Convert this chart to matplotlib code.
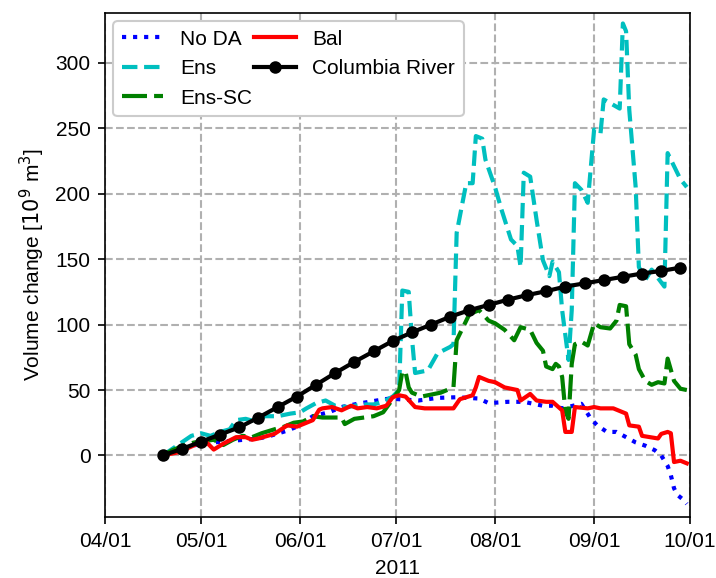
import numpy as np
import matplotlib
matplotlib.use("Agg")
import matplotlib.pyplot as plt
import matplotlib.dates as mdates

plt.rcParams['font.family'] = ['Liberation Sans', 'DejaVu Sans']
plt.rcParams['font.size'] = 10

start = np.datetime64('2011-04-01')

# days after 04/01 and values [10^9 m^3]
nda_day = [18, 25, 30, 34, 41, 48, 51, 57, 60, 65, 70, 74, 79, 85, 89, 98, 104, 110, 117, 120,
           126, 131, 133, 137, 140, 143, 149, 152, 154, 157, 160, 163, 166, 169, 172, 174, 176,
           177, 178, 179, 181, 182]
nda_val = [0, 6, 9, 10, 11.5, 13, 14.5, 19, 22, 30, 33, 37, 39.5, 42, 43.5, 42, 44, 44.5, 43.5, 40,
           41, 41, 40, 38, 38, 36, 39.5, 28, 23, 18, 18, 14, 10, 7.5, 4, 0, -8,
           -15, -25, -30, -34, -37]

ens_day = [18, 21, 24, 27, 30, 33, 36, 39, 41, 44, 47, 50, 54, 58, 61, 63, 66, 69, 72, 76, 80, 84,
           87, 90, 92, 93, 95, 96, 97, 101, 104, 108, 109, 110, 113, 115, 116, 118, 119, 122, 124,
           127, 129, 130, 131, 133, 135, 137, 139, 140, 142, 143, 145, 146, 147, 149, 151, 153,
           155, 156, 161, 162, 163, 164, 166, 167, 169, 171, 175, 176, 178, 180, 182]
ens_val = [0, 5, 10, 15, 17, 15, 18, 20, 27, 28, 26, 30, 30, 32, 33, 36, 40, 42, 38, 37, 39, 39,
           41, 45, 50, 126, 125, 90, 63, 65, 78, 83, 85, 170, 208, 208, 244, 242, 226, 205, 188,
           165, 160, 144, 216, 213, 180, 149, 137, 148, 140, 111, 73, 111, 208, 203, 193, 249,
           246, 272, 265, 330, 324, 264, 205, 144, 134, 142, 129, 231, 221, 211, 205]

sc_day = [18, 21, 25, 28, 31, 34, 37, 40, 43, 46, 49, 53, 56, 59, 62, 65, 68, 71, 74, 75, 78, 81,
          84, 87, 90, 92, 93, 94, 95, 96, 99, 101, 105, 109, 110, 112, 114, 117, 120, 122, 125,
          128, 130, 133, 135, 137, 138, 140, 141, 142, 143, 144, 145, 146, 147, 149, 151, 153,
          155, 158, 160, 161, 163, 164, 166, 167, 169, 171, 173, 175, 176, 178, 180, 182]
sc_val = [0, 4, 8, 10, 11, 12, 8, 12, 15, 14, 17, 20, 22, 25, 26, 30, 29, 29, 29, 24, 28, 29,
          30, 33, 43, 50, 64, 64, 52, 48, 45, 46, 48, 52, 88, 98, 108, 111, 103, 101, 96,
          88, 98, 96, 86, 80, 68, 66, 70, 68, 60, 34, 28, 70, 85, 87, 84, 101,
          98, 97, 103, 115, 114, 85, 77, 66, 57, 54, 56, 55, 74, 57, 51, 50]

bal_day = [18, 23, 29, 32, 34, 37, 41, 44, 46, 48, 53, 57, 60, 65, 67, 68, 71, 74, 77, 79, 82, 85,
           88, 90, 92, 94, 97, 100, 105, 109, 111, 115, 116, 117, 120, 122, 125, 129, 130, 133,
           135, 138, 140, 143, 144, 146, 147, 151, 153, 155, 159, 163, 164, 167, 168, 173, 174,
           176, 177, 178, 180, 182]
bal_val = [0, 2.5, 9, 9.5, 4.5, 9, 14, 14, 12, 13, 16.5, 23, 22, 27, 35, 36, 37, 34.5, 38, 36, 37, 36,
           38, 44.5, 46, 45, 37, 36, 36, 36, 43, 46, 52, 60, 57, 56, 52, 50, 42, 47,
           42, 41, 41, 34.5, 18, 18, 37, 36, 37, 36, 36, 32, 23, 22, 15, 13, 16.5,
           18, 17, -5, -4, -6]

col_day = list(range(18, 181, 6))
col_val = [0, 5, 10.5, 16, 21.5, 29, 37, 45, 54, 63, 71.5, 79.5, 87.5, 94, 100, 106, 111, 115,
           119, 122.5, 125.5, 129, 131.5, 134, 136.5, 139, 141, 143.5]


def to_dates(days):
    return mdates.date2num(start) + np.array(days, dtype=float)


fig = plt.figure(figsize=(716 / 150, 578 / 150), dpi=150)
ax = fig.add_axes([0.1467, 0.1055, 0.817, 0.872])

ax.plot(to_dates(nda_day), nda_val, ':', color='b', lw=2, label='No DA')
ax.plot(to_dates(ens_day), ens_val, '--', color='c', lw=2, label='Ens')
ax.plot(to_dates(sc_day), sc_val, '--', color='g', lw=2, dashes=(6, 1.7), label='Ens-SC')
ax.plot(to_dates(bal_day), bal_val, '-', color='r', lw=2, label='Bal')
ax.plot(to_dates(col_day), col_val, '-o', color='k', lw=2, ms=5, label='Columbia River')

ax.set_xlim(mdates.date2num(start), mdates.date2num(np.datetime64('2011-10-01')))
ax.set_ylim(-47, 338)
ax.set_yticks(np.arange(0, 301, 50))
ax.xaxis.set_major_locator(mdates.MonthLocator())
ax.xaxis.set_major_formatter(mdates.DateFormatter('%m/%d'))
ax.grid(True, linestyle='--', color='#b0b0b0', lw=1)
ax.set_axisbelow(True)
ax.set_xlabel('2011')
ax.set_ylabel('Volume change [$10^9$ m$^3$]')
ax.legend(loc='upper left', ncol=2, columnspacing=0.1, handletextpad=0.8,
          borderaxespad=0.4, framealpha=1)

fig.savefig('out.png', dpi=150)
